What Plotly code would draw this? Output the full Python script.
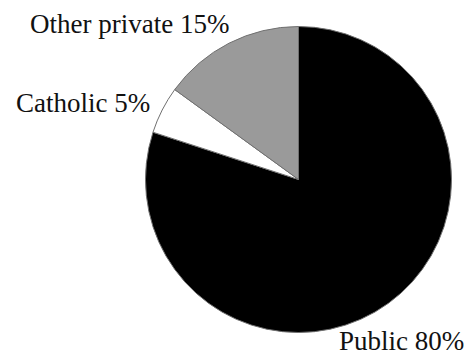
import plotly.graph_objects as go

# School enrolment shares by sector
sectors = ["Public", "Catholic", "Other private"]
shares = [80, 5, 15]
slice_colors = ["#000000", "#ffffff", "#9a9a9a"]

W, H = 469, 358

fig = go.Figure(
    go.Pie(
        labels=sectors,
        values=shares,
        sort=False,
        direction="clockwise",
        rotation=0,
        textinfo="none",
        hoverinfo="label+percent",
        marker=dict(colors=slice_colors, line=dict(color="#707070", width=1)),
        domain=dict(x=[145.5 / W, 451.5 / W], y=[1 - 332.5 / H, 1 - 26.5 / H]),
        showlegend=False,
    )
)

# Outside labels: (x, y in pixels, horizontal anchor, vertical anchor)
label_spots = {
    "Other private": (28, 24, "left", "middle"),
    "Catholic": (14, 103, "left", "middle"),
    "Public": (466, 358, "right", "bottom"),
}
annotations = []
for name, val in zip(sectors, shares):
    px, py, xa, ya = label_spots[name]
    annotations.append(
        dict(
            text=f"{name} {val}%",
            x=px / W,
            y=1 - py / H,
            xref="paper",
            yref="paper",
            xanchor=xa,
            yanchor=ya,
            showarrow=False,
            font=dict(family="Liberation Serif", size=27, color="#111111"),
        )
    )

fig.update_layout(
    width=W,
    height=H,
    margin=dict(l=0, r=0, t=0, b=0),
    paper_bgcolor="white",
    plot_bgcolor="white",
    annotations=annotations,
)

fig.write_html("out.html")
